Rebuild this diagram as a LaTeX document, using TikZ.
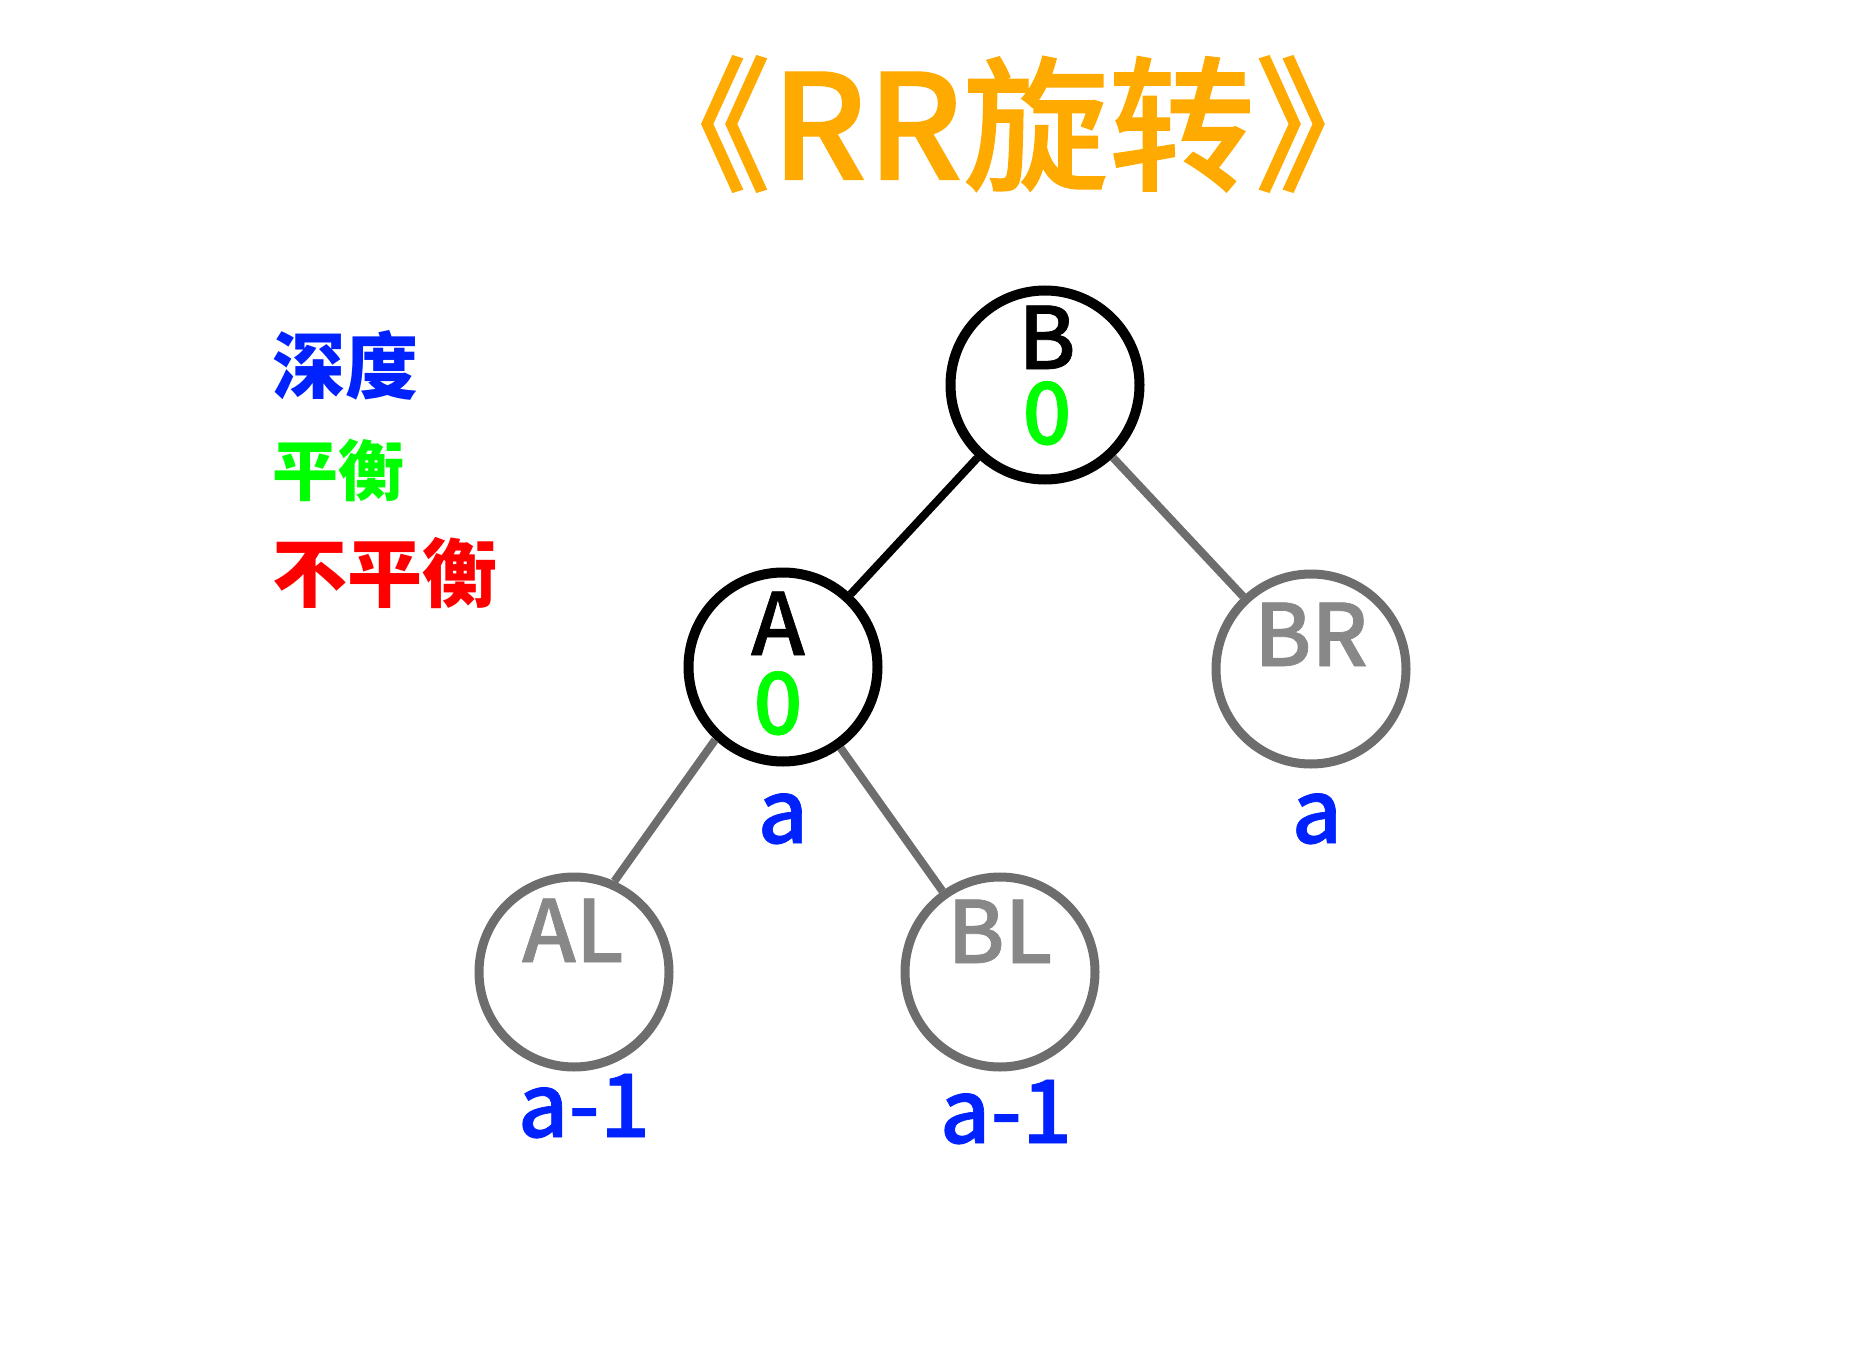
\documentclass[tikz,border=0pt]{standalone}
\usepackage{fontspec}
\setmainfont{Noto Sans CJK SC}
\newfontfamily\medfont{Noto Sans CJK SC Medium}[FakeBold=0.8]
\usepackage{tikz}
\definecolor{cTit}{HTML}{FFAA00}
\definecolor{cDep}{HTML}{0022FF}
\definecolor{cBal}{HTML}{00FF00}
\definecolor{cUnb}{HTML}{FF0000}
\definecolor{cRim}{HTML}{6D6D6D}
\definecolor{cSub}{HTML}{888888}

\begin{document}
\begin{tikzpicture}[x=1pt,y=-1pt,
    mainnode/.style={circle,draw=black,line width=10pt,minimum size=189pt,inner sep=0pt},
    subnode/.style={circle,draw=cRim,line width=9pt,minimum size=190pt,inner sep=0pt},
    keytxt/.style={anchor=base,inner sep=0pt,font=\fontsize{86}{86}\medfont},
    baltxt/.style={keytxt,text=cBal},
    subtxt/.style={keytxt,text=cSub},
    deptxt/.style={anchor=base,inner sep=0pt,text=cDep,font=\fontsize{88}{88}\medfont},
    edgeblk/.style={draw=black,line width=8pt},
    edgegry/.style={draw=cRim,line width=8pt}]
  \useasboundingbox (0,0) rectangle (1874,1356);
  \node[inner sep=0pt,text=cTit,font=\fontsize{146}{146}\medfont] (title) at (1013,124) {《RR旋转》};
  % legend
  \foreach \n/\y/\c/\s/\t in {dep/365/cDep/73/深度, bal/470/cBal/66/平衡, unb/573/cUnb/75/不平衡}{
    \node[anchor=west,inner sep=0pt,text=\c,font=\fontsize{\s}{\s}\selectfont\bfseries] (leg-\n) at (272,\y) {\t};
  }
  % tree
  \foreach \n/\x/\y/\k in {B/1045/385/mainnode, A/783/667/mainnode, BR/1311/669/subnode,
                           AL/574/972/subnode, BL/1000/972/subnode}{
    \node[\k] (\n) at (\x,\y) {};
  }
  \draw[edgeblk] (B) -- (A);
  \draw[edgegry] (B) -- (BR);
  \draw[edgegry] (A.227) -- (AL.66);
  \draw[edgegry] (A) -- (BL);
  \node[keytxt] (B-key) at (1047,369) {B};
  \node[baltxt] (B-bal) at (1047,444) {0};
  \node[keytxt] (A-key) at (778,655) {A};
  \node[baltxt] (A-bal) at (778,734) {0};
  \node[subtxt] (BR-key) at (1311,666) {BR};
  \node[subtxt] (AL-key) at (573,962) {AL};
  \node[subtxt] (BL-key) at (1000,963) {BL};
  \node[deptxt] (A-dep) at (783,843) {a};
  \node[deptxt] (BR-dep) at (1317,843) {a};
  \node[deptxt] (AL-dep) at (584,1137) {a-1};
  \node[deptxt] (BL-dep) at (1006,1143) {a-1};
\end{tikzpicture}
\end{document}
